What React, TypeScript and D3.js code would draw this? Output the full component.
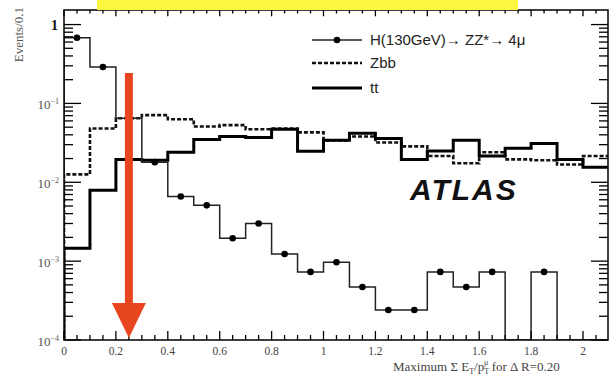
import React from "react";
import * as d3 from "d3";

const binEdges = [0, 0.1, 0.2, 0.3, 0.4, 0.5, 0.6, 0.7, 0.8, 0.9, 1.0, 1.1, 1.2, 1.3, 1.4, 1.5, 1.6, 1.7, 1.8, 1.9, 2.0, 2.1];
const higgs = [0.68, 0.29, 0.065, 0.018, 0.0066, 0.0051, 0.00195, 0.003, 0.00123, 0.00073, 0.00097, 0.00047, 0.00024, 0.00024, 0.00073, 0.00047, 0.00073, 0, 0.00073, 0, 0];
const zbb = [0.0126, 0.048, 0.065, 0.071, 0.063, 0.051, 0.053, 0.047, 0.048, 0.043, 0.034, 0.038, 0.032, 0.0285, 0.0215, 0.0174, 0.024, 0.0195, 0.019, 0.0168, 0.0215];
const ttbar = [0.00146, 0.0079, 0.0195, 0.019, 0.024, 0.035, 0.038, 0.037, 0.047, 0.0247, 0.034, 0.042, 0.036, 0.0195, 0.025, 0.034, 0.0216, 0.027, 0.031, 0.0195, 0.0155];
const xTickLabels = ["0", "0.2", "0.4", "0.6", "0.8", "1", "1.2", "1.4", "1.6", "1.8", "2"];
const yDecades = [1, 0.1, 0.01, 0.001, 0.0001];
const legendLabels = ["H(130GeV)\u2192 ZZ*\u2192 4\u03bc", "Zbb", "tt"];
const arrowX = 0.25;

const L = 64, T = 10, R = 608, B = 340;

export default function App() {
  const x = d3.scaleLinear().domain([0, 2]).range([L, 583]);
  const xMax = x.invert(R);
  const y = d3.scaleLog().domain([1e-4, 1.53]).range([B, T]).clamp(true);

  const stepPath = (vals: number[]) => {
    const pts: [number, number][] = [];
    vals.forEach((v, i) => {
      const yy = y(v > 0 ? v : 1e-4);
      pts.push([x(binEdges[i]), yy]);
      pts.push([x(binEdges[i + 1]), yy]);
    });
    const start: [number, number] = [x(0), B];
    return d3.line()([start, ...pts]) as string;
  };

  const xMinor = d3.range(0, xMax + 1e-9, 0.05);
  const yMinor: number[] = [];
  for (let e = -4; e <= 0; e++) for (let m = 1; m <= 9; m++) { const v = m * Math.pow(10, e); if (v <= 1.53) yMinor.push(v); }

  const serif = "'Liberation Serif', 'DejaVu Serif', serif";
  const sans = "'Liberation Sans', Arial, sans-serif";
  const ax = x(arrowX);

  return (
    <svg width={609} height={377} style={{ position: "absolute", left: 0, top: 0, background: "#fff" }}>
      <defs>
        <clipPath id="plot"><rect x={L} y={T} width={R - L} height={B - T} /></clipPath>
      </defs>
      <rect x={0} y={0} width={609} height={377} fill="#fff" />
      {/* histograms */}
      <g clipPath="url(#plot)" fill="none">
        <path d={stepPath(zbb)} stroke="#111" strokeWidth={2.6} strokeDasharray="4,2" />
        <path d={stepPath(ttbar)} stroke="#000" strokeWidth={3} />
        <path d={stepPath(higgs)} stroke="#222" strokeWidth={1.5} />
        {higgs.map((v, i) => v > 0 ? (
          <circle key={i} cx={x((binEdges[i] + binEdges[i + 1]) / 2)} cy={y(v)} r={3.3} fill="#000" />
        ) : null)}
      </g>
      {/* frame */}
      <rect x={L} y={T} width={R - L} height={B - T} fill="none" stroke="#000" strokeWidth={1.5} />
      {/* x ticks */}
      {xMinor.map((v, i) => {
        const major = i % 4 === 0;
        const h = major ? 9 : 5;
        return (
          <g key={i} stroke="#000" strokeWidth={1.3}>
            <line x1={x(v)} x2={x(v)} y1={B} y2={B - h} />
            <line x1={x(v)} x2={x(v)} y1={T} y2={T + h * 0.7} />
          </g>
        );
      })}
      {xTickLabels.map((t, i) => (
        <text key={t} x={x(i * 0.2)} y={355} textAnchor="middle" fontFamily={serif} fontSize={11.5} fill="#444">{t}</text>
      ))}
      {/* y ticks */}
      {yMinor.map((v, i) => {
        const major = Math.abs(Math.log10(v) - Math.round(Math.log10(v))) < 1e-6;
        const h = major ? 17 : 9;
        return (
          <g key={i} stroke="#000" strokeWidth={1.3}>
            <line x1={L} x2={L + h} y1={y(v)} y2={y(v)} />
            <line x1={R} x2={R - h} y1={y(v)} y2={y(v)} />
          </g>
        );
      })}
      {yDecades.map((v) => {
        const e = Math.round(Math.log10(v));
        return e === 0 ? (
          <text key={v} x={58} y={y(v) + 5} textAnchor="end" fontFamily={serif} fontWeight="bold" fontSize={14} fill="#111">1</text>
        ) : (
          <text key={v} x={59} y={y(v) + 6} textAnchor="end" fontFamily={serif} fontSize={13} fill="#555">
            10<tspan dy={-5} fontSize={8}>{"\u2212" + Math.abs(e)}</tspan>
          </text>
        );
      })}
      <text transform="translate(23,7) rotate(-90)" textAnchor="end" fontFamily={serif} fontSize={13} fill="#555">Events/0.1</text>
      {/* x title */}
      <text x={393} y={371} fontFamily={serif} fontSize={13} fill="#444">
        Maximum Σ E<tspan dy={3} fontSize={8}>T</tspan><tspan dy={-3}>/p</tspan><tspan dy={3} fontSize={8}>T</tspan><tspan dx={-5} dy={-9} fontSize={8}>μ</tspan><tspan dy={6}> for Δ R=0.20</tspan>
      </text>
      {/* legend */}
      <g fontFamily={sans} fontSize={15} fill="#222">
        <line x1={312} x2={362} y1={40} y2={40} stroke="#222" strokeWidth={1.5} />
        <circle cx={337} cy={40} r={3.3} fill="#000" />
        <text x={370} y={45}>{legendLabels[0]}</text>
        <line x1={312} x2={362} y1={63} y2={63} stroke="#111" strokeWidth={2.6} strokeDasharray="4,2" />
        <text x={370} y={68}>{legendLabels[1]}</text>
        <line x1={312} x2={362} y1={88} y2={88} stroke="#000" strokeWidth={3} />
        <text x={370} y={93}>{legendLabels[2]}</text>
      </g>
      <text x={410} y={200} fontFamily={sans} fontWeight="bold" fontStyle="italic" fontSize={30} letterSpacing={2} fill="#111">ATLAS</text>
      {/* annotations */}
      <rect x={97} y={0} width={421} height={10} fill="#fdf640" />
      <rect x={ax - 4} y={73} width={8} height={240} fill="#e8461f" />
      <path d={`M${ax - 17},${303} L${ax + 17},${303} L${ax},${338} Z`} fill="#e8461f" />
    </svg>
  );
}
